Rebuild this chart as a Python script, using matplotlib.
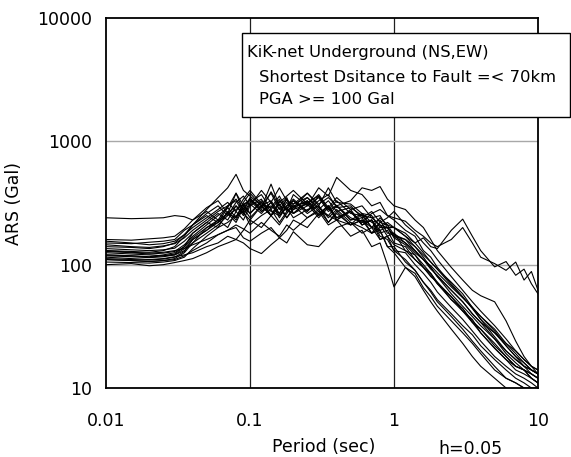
import matplotlib
matplotlib.use("Agg")
import matplotlib.pyplot as plt
from matplotlib.patches import Rectangle

plt.rcParams['font.family'] = ['DejaVu Sans']

periods = [0.01, 0.015, 0.02, 0.025, 0.03, 0.035, 0.04, 0.05, 0.06, 0.07, 0.08, 0.09,
           0.1, 0.12, 0.14, 0.16, 0.18, 0.2, 0.25, 0.3, 0.35, 0.4, 0.5, 0.6, 0.7, 0.8,
           0.9, 1.0, 1.2, 1.4, 1.6, 1.8, 2.0, 2.5, 3.0, 3.5, 4.0, 5.0, 6.0, 7.0, 8.0, 9.0, 10.0]

ars_01 = [240,236,238,240,250,245,230,290,330,260,380,300,340,280,390,300,350,260,320,250,300,240,270,210,230,180,190,150,140,110,95,80,72,52,44,34,30,22,18,15,14,12,11]
ars_02 = [130,128,126,130,140,170,210,280,350,420,540,400,360,300,380,280,340,260,300,350,270,300,230,260,200,210,170,180,130,120,95,85,70,55,42,36,28,21,17,15,14,12,11]
ars_03 = [120,118,116,120,125,140,180,220,200,270,230,300,260,320,250,330,280,370,300,420,360,510,400,370,300,320,250,230,190,170,130,115,95,70,55,44,36,26,20,17,15,13,12]
ars_04 = [150,148,152,155,160,190,210,250,220,290,240,310,330,270,300,260,340,290,380,310,350,300,330,420,400,430,340,300,280,230,200,160,130,95,75,62,56,50,35,24,18,15,13]
ars_05 = [110,108,106,108,112,125,150,200,230,260,300,250,310,260,320,240,300,330,260,300,220,270,210,230,180,200,220,200,170,150,165,140,135,190,234,170,130,96,106,82,92,70,58]
ars_06 = [112,110,109,111,115,128,160,190,220,260,220,290,240,300,250,290,240,280,310,240,290,230,270,220,260,280,250,240,225,190,170,150,140,160,200,150,115,102,90,105,75,88,62]
ars_07 = [100,102,98,100,104,108,112,125,140,150,160,150,135,123,145,165,190,230,200,260,300,240,270,210,230,170,160,130,110,90,72,60,50,38,30,24,20,15,12,11,10,9,9]
ars_08 = [125,122,120,118,120,135,160,190,230,200,270,230,300,340,250,310,240,290,330,250,300,230,280,210,230,160,170,130,125,100,85,72,60,45,36,29,24,18,15,13,12,11,10]
ars_09 = [140,138,135,140,150,175,200,240,280,320,270,340,400,310,290,360,280,330,270,360,280,300,230,240,180,190,140,140,105,90,72,62,52,40,32,27,22,17,14,12,11,10,10]
ars_10 = [115,112,110,112,116,120,125,140,150,170,160,190,230,200,250,210,260,300,240,270,210,230,170,190,140,150,100,66,95,85,65,55,46,35,28,23,19,14,12,11,10,10,9]
ars_11 = [155,150,145,148,155,175,210,260,300,250,320,360,300,400,320,420,330,310,350,280,330,270,290,250,240,210,200,170,150,125,110,92,82,62,50,40,34,28,23,20,17,15,14]
ars_12 = [130,126,124,126,130,135,145,160,175,190,210,195,180,220,190,170,210,190,240,280,220,260,210,230,200,240,210,200,180,150,125,105,92,68,54,45,38,29,22,18,16,14,13]
ars_13 = [160,158,162,165,170,195,230,270,230,300,330,260,230,300,250,320,360,400,310,370,290,350,280,300,240,250,200,200,170,140,115,95,80,58,46,38,32,25,20,17,15,14,13]
ars_14 = [110,108,106,108,110,118,130,150,175,190,200,165,155,180,200,165,150,185,145,140,170,200,220,180,200,160,170,145,130,110,95,82,70,52,42,34,28,21,17,14,13,12,11]
ars_15 = [120,118,115,118,122,140,165,200,220,260,240,320,380,300,330,260,320,280,350,290,250,300,240,220,230,190,200,170,160,140,120,105,92,72,58,45,36,28,22,18,15,14,13]
ars_16 = [145,140,138,142,148,165,190,230,270,300,340,280,350,270,320,250,290,240,280,300,240,280,220,200,180,220,240,270,210,180,150,130,110,80,62,50,42,32,25,20,17,15,14]
ars_17 = [105,104,103,105,108,115,135,170,200,220,250,270,210,250,280,220,270,300,320,360,280,330,260,250,200,190,140,125,95,80,62,50,42,30,23,18,15,12,10,9,9,8,8]
ars_18 = [135,132,130,132,136,155,180,220,260,230,300,260,320,370,280,340,270,310,380,300,420,320,310,260,250,200,200,165,145,120,100,85,72,55,44,35,30,23,18,15,14,13,12]
ars_19 = [118,116,114,116,120,130,150,180,210,250,280,310,260,330,270,250,300,340,270,330,370,290,300,240,270,220,210,175,160,130,110,95,80,62,50,40,34,25,19,16,14,13,12]
ars_20 = [128,125,122,124,128,145,170,210,250,290,380,270,340,290,450,300,280,260,330,270,250,230,210,260,220,230,180,180,150,130,110,98,86,66,54,45,38,30,23,19,16,14,13]

spectra = [ars_01, ars_02, ars_03, ars_04, ars_05, ars_06, ars_07, ars_08, ars_09, ars_10,
           ars_11, ars_12, ars_13, ars_14, ars_15, ars_16, ars_17, ars_18, ars_19, ars_20]

x_ticks = [0.01, 0.1, 1, 10]
x_ticklabels = ["0.01", "0.1", "1", "10"]
y_ticks = [10, 100, 1000, 10000]
y_ticklabels = ["10", "100", "1000", "10000"]

W, H = 571, 457
FS = 12.5
LFS = 11.8
fig = plt.figure(figsize=(W / 100, H / 100), dpi=100)
ax = fig.add_axes([106 / W, 1 - 388 / H, (538 - 106) / W, (388 - 18) / H])

ax.set_xscale('log')
ax.set_yscale('log')
ax.set_xlim(0.01, 10)
ax.set_ylim(10, 10000)

for xv in [0.1, 1]:
    ax.axvline(xv, color='#202020', lw=0.9, zorder=1)
for yv in [100, 1000]:
    ax.axhline(yv, color='#a8a8a8', lw=1.0, zorder=1)

for s in spectra:
    ax.plot(periods, s, color='black', lw=0.8, zorder=2)

ax.set_xticks(x_ticks)
ax.set_xticklabels(x_ticklabels)
ax.set_yticks(y_ticks)
ax.set_yticklabels(y_ticklabels)
ax.minorticks_off()
ax.tick_params(axis='both', length=0, labelsize=FS)
ax.tick_params(axis='x', pad=17)
ax.tick_params(axis='y', pad=10)
for sp in ax.spines.values():
    sp.set_linewidth(1.3)
    sp.set_color('black')

ax.set_ylabel("ARS (Gal)", fontsize=FS)
ax.yaxis.set_label_coords((23 - 106) / 432, (388 - 203.5) / 370)

fig.text(324 / W, 1 - 447 / H, "Period (sec)", ha='center', va='center', fontsize=FS)
fig.text(470 / W, 1 - 449 / H, "h=0.05", ha='center', va='center', fontsize=FS)

rect = Rectangle((242 / W, 1 - 117 / H), (570 - 242) / W, (117 - 33) / H,
                 transform=fig.transFigure, facecolor='white', edgecolor='black',
                 lw=1.0, zorder=5)
fig.add_artist(rect)
fig.text(247 / W, 1 - 52 / H, "KiK-net Underground (NS,EW)", ha='left', va='center',
         fontsize=LFS, zorder=6)
fig.text(259 / W, 1 - 77 / H, "Shortest Dsitance to Fault =< 70km", ha='left', va='center',
         fontsize=LFS, zorder=6)
fig.text(259 / W, 1 - 100 / H, "PGA >= 100 Gal", ha='left', va='center',
         fontsize=LFS, zorder=6)

fig.savefig("out.png", dpi=100)
